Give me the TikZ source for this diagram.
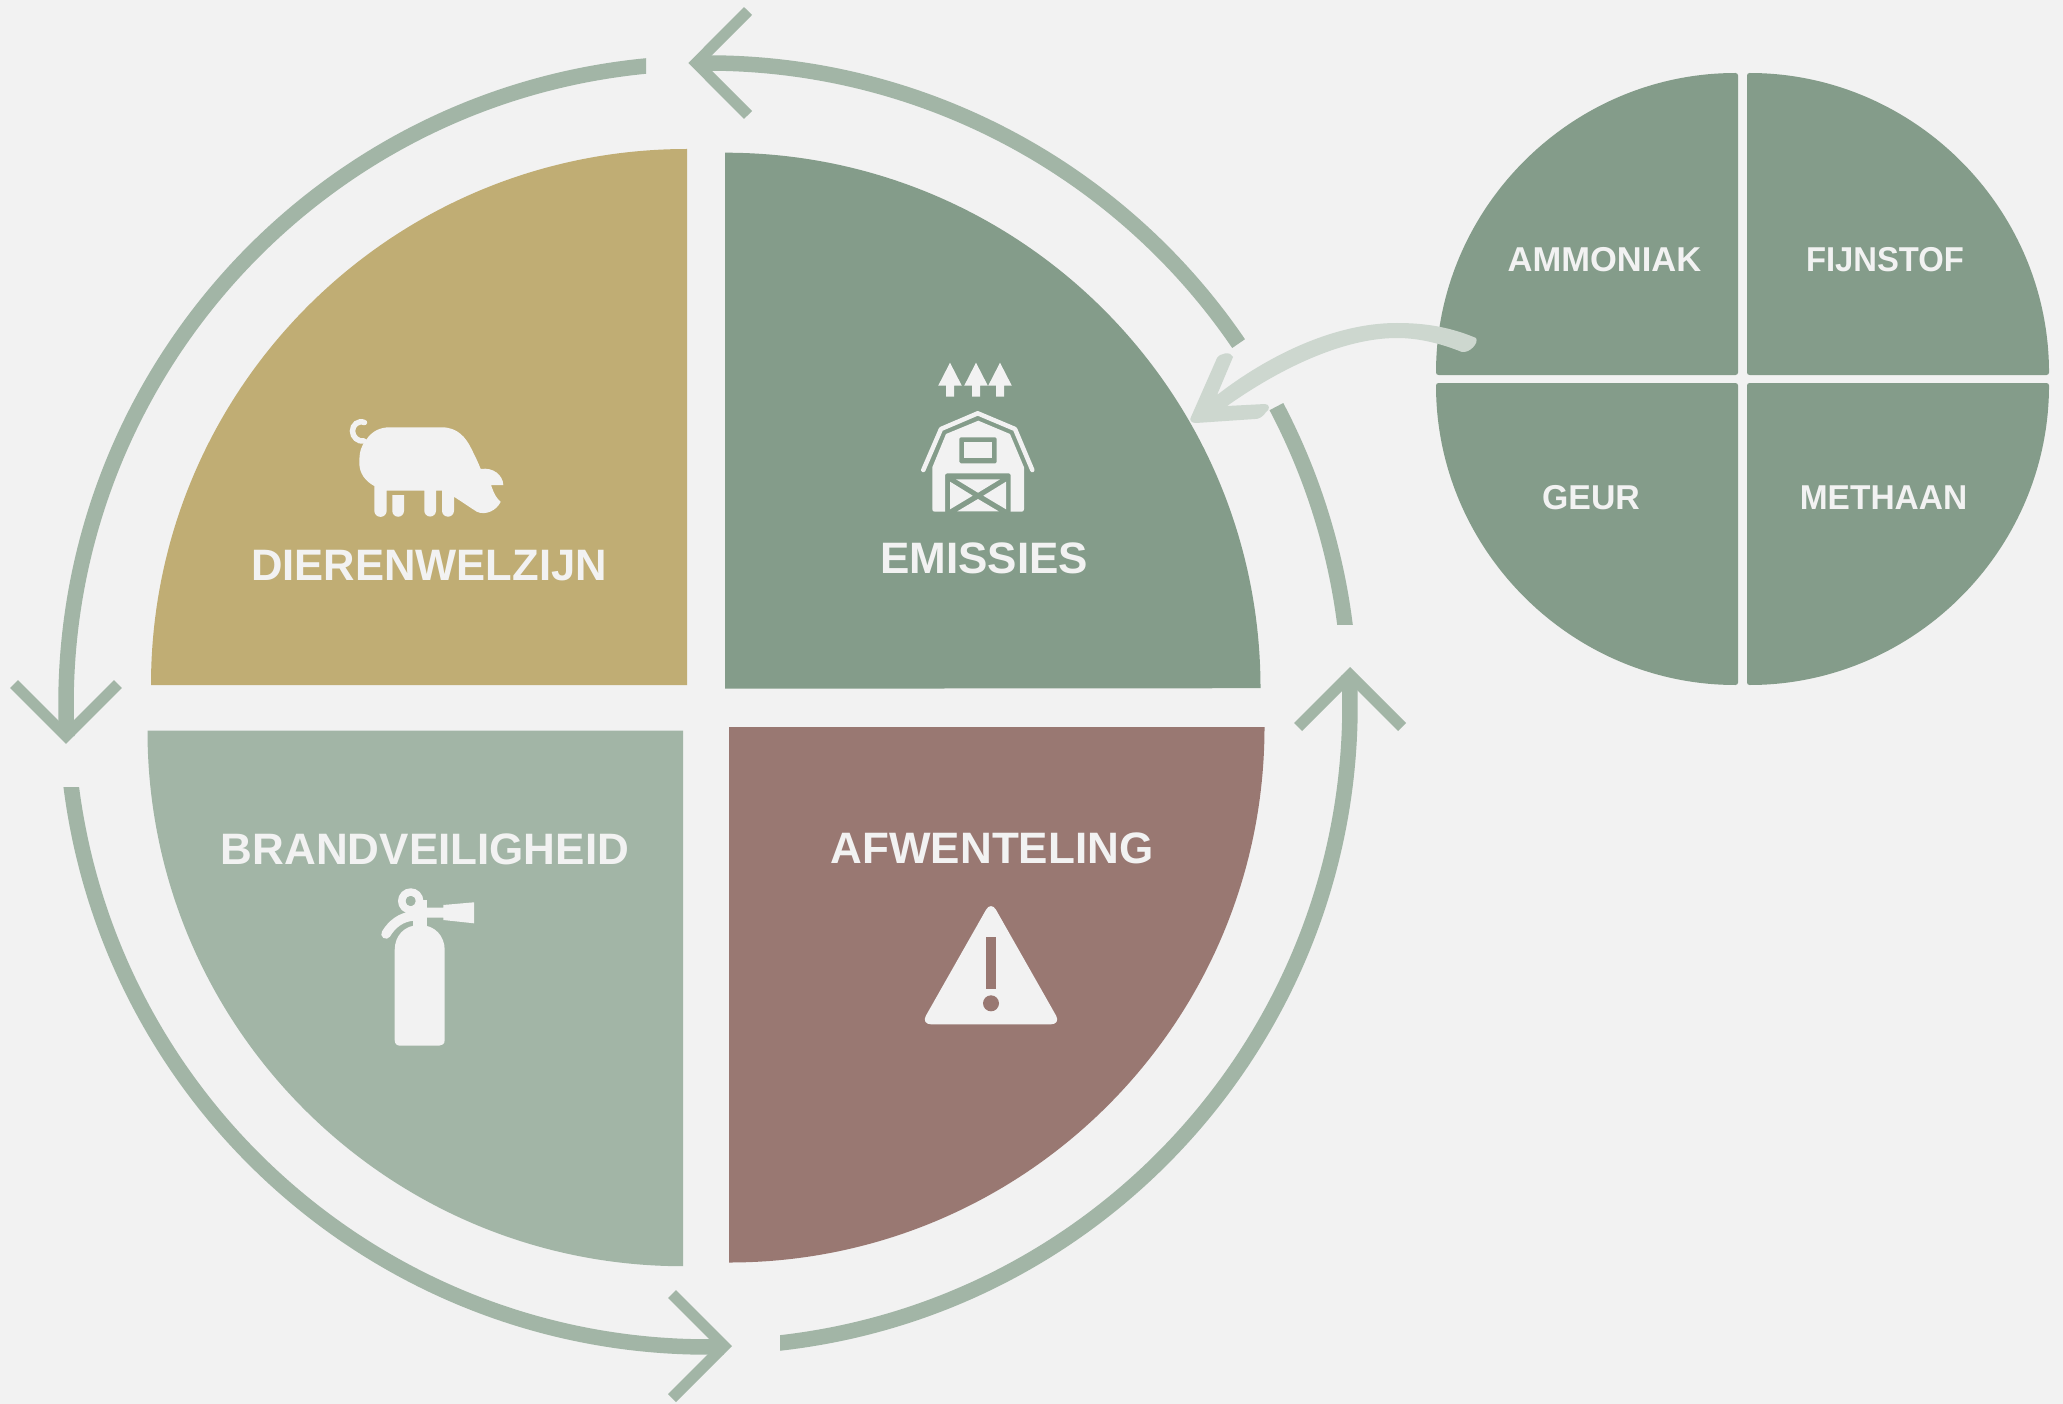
\documentclass[tikz,border=0pt]{standalone}
\usepackage{fontspec}
\setmainfont{Liberation Sans}
\definecolor{bgc}{HTML}{F2F2F2}
\definecolor{yellowq}{HTML}{C0AD74}
\definecolor{greenq}{HTML}{849C8A}
\definecolor{sageq}{HTML}{A2B5A6}
\definecolor{brownq}{HTML}{997872}
\definecolor{paleq}{HTML}{CDD7CF}
\tikzset{
  ringline/.style={draw=sageq,line width=15.5pt,line cap=butt},
  chev/.style={draw=sageq,line width=11.3pt,line cap=butt,line join=miter},
  icon/.style={fill=bgc,draw=none},
  bigtxt/.style={text=bgc,inner sep=0pt,anchor=base,font=\fontsize{44}{50}\selectfont\bfseries},
  smalltxt/.style={text=bgc,inner sep=0pt,anchor=base,font=\fontsize{34.5}{40}\selectfont\bfseries},
  smallq/.style={fill=greenq,rounded corners=2.5pt}
}
\newcommand\ringarc[2]{\draw[ringline] ([shift={(708,705)}]-#1:642) arc[start angle=#1,end angle=#2,radius=642pt];}
\begin{document}
\begin{tikzpicture}[x=1pt,y=-1pt]
\useasboundingbox (0,0) rectangle (2063,1404);
\fill[bgc] (0,0) rectangle (2063,1404);
% quadrants
\fill[yellowq] (151,685) arc[start angle=180,end angle=90,radius=536pt] -- (687,685) -- cycle;
\fill[greenq] (725,152.7) arc[start angle=90,end angle=0,radius=535.5pt] -- (725,688.7) -- cycle;
\fill[sageq] (147.5,730.7) arc[start angle=180,end angle=270,radius=535.5pt] -- (683,730.7) -- cycle;
\fill[brownq] (1264.5,727) arc[start angle=0,end angle=-90,radius=535.5pt] -- (729,727) -- cycle;
% ring
\ringarc{34.26}{91}
\begin{scope}
  \clip (0,0) rectangle (646,1404);
  \ringarc{94}{182.8}
\end{scope}
\begin{scope}
  \clip (0,787) rectangle (1000,1404);
  \ringarc{186}{271.4}
\end{scope}
\begin{scope}
  \clip (780,600) rectangle (1500,1404);
  \ringarc{275}{362.7}
\end{scope}
\begin{scope}
  \clip (1100,300) rectangle (1500,624);
  \ringarc{6}{27.7}
\end{scope}
\draw[chev] (748,11) -- (696.3,63) -- (748,115);
\draw[chev] (14,684) -- (66,736) -- (118,684);
\draw[chev] (672,1294) -- (724,1346) -- (672,1398);
\draw[chev] (1298,727) -- (1350,675) -- (1402,727);
% small circle
\fill[smallq] (1436,375) arc[start angle=180,end angle=90,radius=302pt] -- (1738,375) -- cycle;
\fill[smallq] (1747,73) arc[start angle=90,end angle=0,radius=302pt] -- (1747,375) -- cycle;
\fill[smallq] (1738,383) -- (1436,383) arc[start angle=180,end angle=270,radius=302pt] -- cycle;
\fill[smallq] (1747,383) -- (2049,383) arc[start angle=0,end angle=-90,radius=302pt] -- cycle;
% pale arrow
\fill[paleq] (1476,338) .. controls (1479,343) and (1470,353) .. (1462,352)
 .. controls (1442,344) and (1420,338) .. (1397,338)
 .. controls (1340,338) and (1275,372) .. (1227,406)
 -- (1265,404) .. controls (1270,404) and (1270,410) .. (1266,412)
 .. controls (1262,418) and (1258,419) .. (1255,419)
 -- (1196,423) .. controls (1191,423) and (1189,420) .. (1191,417)
 -- (1217,358) .. controls (1220,353) and (1231,351) .. (1233,357)
 -- (1217,395)
 .. controls (1262,360) and (1330,323) .. (1397,323)
 .. controls (1425,323) and (1450,327) .. (1476,338) -- cycle;
% pig
\draw[bgc,line width=5.5pt,line cap=round] (364.5,422.5) .. controls (358,420) and (352.5,425) .. (352.5,431)
  .. controls (352.5,437) and (358,442) .. (364,441);
\fill[icon] (366,440) .. controls (372,431) and (380,427.3) .. (390,427.3) -- (441.7,427.3)
  .. controls (458,427.3) and (466,438) .. (471,448)
  .. controls (475,456) and (478,462) .. (480.7,469)
  .. controls (493,467) and (503,475) .. (503.3,485) -- (491,485)
  .. controls (494,494) and (497,499) .. (500.7,501.7)
  .. controls (497,510) and (486,516) .. (476.7,511.7) -- (454,496.7) -- (454,510.7)
  arc[start angle=0,end angle=-180,radius=6pt] -- (442,490.7) -- (436,490.7) -- (436,510.7)
  arc[start angle=0,end angle=-180,radius=5.85pt] -- (424.3,490.7) -- (386.7,490.7) -- (386.7,510.7)
  arc[start angle=0,end angle=-180,radius=6.2pt] -- (374.3,486)
  .. controls (365,481) and (359.3,473) .. (359.3,463)
  .. controls (359.3,452) and (361,446) .. (366,440) -- cycle;
\fill[icon] (392.3,495) -- (404,495) -- (404,510.9) arc[start angle=0,end angle=-180,radius=5.85pt] -- cycle;
% barn
\foreach \ax in {950,976,1000}{
  \fill[icon] (\ax,362.7) -- (\ax+11.8,385.7) -- (\ax+4,385.7) -- (\ax+4,396.7) -- (\ax-4,396.7) -- (\ax-4,385.7) -- (\ax-11.8,385.7) -- cycle;
}
\draw[bgc,line width=4.5pt,line cap=round,line join=round] (923.3,470) -- (941,429) -- (977.7,413.3) -- (1015,429) -- (1032.3,470);
\fill[icon,even odd rule] (978.3,420.7) -- (1010,434) -- (1024,467.3) -- (1024,509) .. controls (1024,511) and (1023,511.7) .. (1021.5,511.7)
  -- (1010.7,511.7) -- (1010.7,475.5) .. controls (1010.7,474) and (1010,473.3) .. (1008.5,473.3)
  -- (947.5,473.3) .. controls (946,473.3) and (945,474) .. (945,475.5) -- (945,511.7) -- (935,511.7)
  .. controls (933,511.7) and (932.3,511) .. (932.3,509) -- (932.3,467.3) -- (946,434) -- cycle;
\fill[greenq,rounded corners=1.5pt] (959.3,437.3) rectangle (996.7,463.3);
\fill[icon] (964.3,442.3) rectangle (991.7,458.3);
\fill[icon] (956,479.3) -- (1000,479.3) -- (978,492.7) -- cycle;
\fill[icon] (950,481.7) -- (950,509.3) -- (972.7,495.7) -- cycle;
\fill[icon] (1006,481.7) -- (1006,509.3) -- (983.3,495.7) -- cycle;
\fill[icon] (957.3,511.3) -- (998.7,511.3) -- (978,499) -- cycle;
% extinguisher
\fill[icon] (394.7,950) .. controls (394.7,936) and (404,925) .. (419.7,925) .. controls (435,925) and (444.7,936) .. (444.7,950)
  -- (444.7,1040) .. controls (444.7,1044) and (442,1045.7) .. (439,1045.7) -- (400.4,1045.7)
  .. controls (397,1045.7) and (394.7,1044) .. (394.7,1040) -- cycle;
\fill[icon] (412.7,900) rectangle (427.3,930);
\draw[bgc,line width=7.7pt] (410.7,901) circle[radius=8.8pt];
\fill[sageq] (410.7,901) circle[radius=5pt];
\fill[icon] (427,907.7) -- (443.3,907.7) -- (443.3,905) -- (474,902.3) -- (474,923.3) -- (443.3,920) -- (443.3,917.7) -- (427,917.7) -- cycle;
\draw[bgc,line width=9.5pt,line cap=round] (413,916) .. controls (401,917) and (392,924) .. (386,934);
% warning
\fill[icon,rounded corners=10pt] (991,901) -- (1061,1024.3) -- (921,1024.3) -- cycle;
\fill[brownq] (986.3,936.7) rectangle (995.7,989.3);
\fill[brownq] (991,1003.3) circle[radius=8pt];
% texts
\node[bigtxt] (dier) at (429,580) {\scalebox{0.99}[1]{DIERENWELZIJN}};
\node[bigtxt] (emis) at (984,573.5) {EMISSIES};
\node[bigtxt] (afwe) at (992,863) {AFWENTELING};
\node[bigtxt] (bran) at (425,864) {BRANDVEILIGHEID};
\node[smalltxt] (ammo) at (1604.5,271.7) {AMMONIAK};
\node[smalltxt] (fijn) at (1885,271.7) {\scalebox{0.95}[1]{FIJNSTOF}};
\node[smalltxt] (geur) at (1591,509) {\scalebox{0.98}[1]{GEUR}};
\node[smalltxt] (meth) at (1883.5,509) {\scalebox{0.97}[1]{METHAAN}};
\end{tikzpicture}
\end{document}
